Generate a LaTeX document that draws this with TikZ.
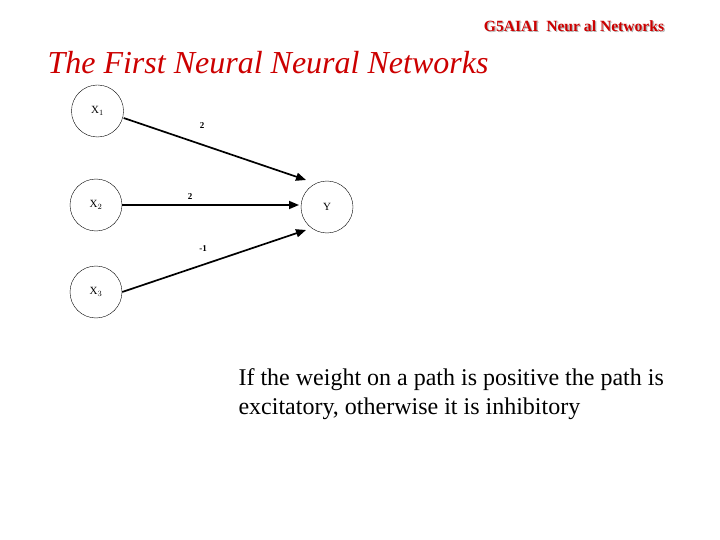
\documentclass[tikz,border=0pt]{standalone}
\usepackage{fontspec}
\setmainfont{Liberation Serif}
\usetikzlibrary{arrows.meta}
\definecolor{hdr}{RGB}{204,0,0}
\begin{document}
\begin{tikzpicture}[x=1pt,y=-1pt,
  neuron/.style={circle,draw,thin,minimum size=52pt,inner sep=0pt,font=\fontsize{11}{12}\selectfont},
  conn/.style={line width=1.7pt,-{Triangle[length=10pt,width=8pt]}},
  wt/.style={font=\bfseries\fontsize{9}{10}\selectfont}]
\useasboundingbox (0,0) rectangle (720,540);
\node[text=gray!60,font=\bfseries\fontsize{15.6}{17}\selectfont] at (575.3,27.3) {G5AIAI\ \ Neur al Networks};
\node[text=hdr,font=\bfseries\fontsize{15.6}{17}\selectfont] (hd) at (574,26) {G5AIAI\ \ Neur al Networks};
\node[text=hdr,font=\itshape\fontsize{32}{36}\selectfont] (ti) at (268,63) {The First Neural Neural Networks};
\node[neuron] (x1) at (97.5,111) {X$_1$};
\node[neuron] (x2) at (96,205) {X$_2$};
\node[neuron] (x3) at (96,292) {X$_3$};
\node[neuron] (y) at (327,207) {Y};
\coordinate (e1) at (306,180);
\coordinate (e2) at (299,205);
\coordinate (e3) at (306,230);
\draw[conn] (x1.east) ++(0,7) -- (e1);
\draw[conn] (x2.east) -- (e2);
\draw[conn] (x3.east) -- (e3);
\node[wt] (w1) at (202,126) {2};
\node[wt] (w2) at (190,197) {2};
\node[wt] (w3) at (203,249) {-1};
\node[anchor=north west,align=left,font=\fontsize{24}{29}\selectfont] (tx) at (235,365) {If the weight on a path is positive the path is\\excitatory, otherwise it is inhibitory};
\end{tikzpicture}
\end{document}
